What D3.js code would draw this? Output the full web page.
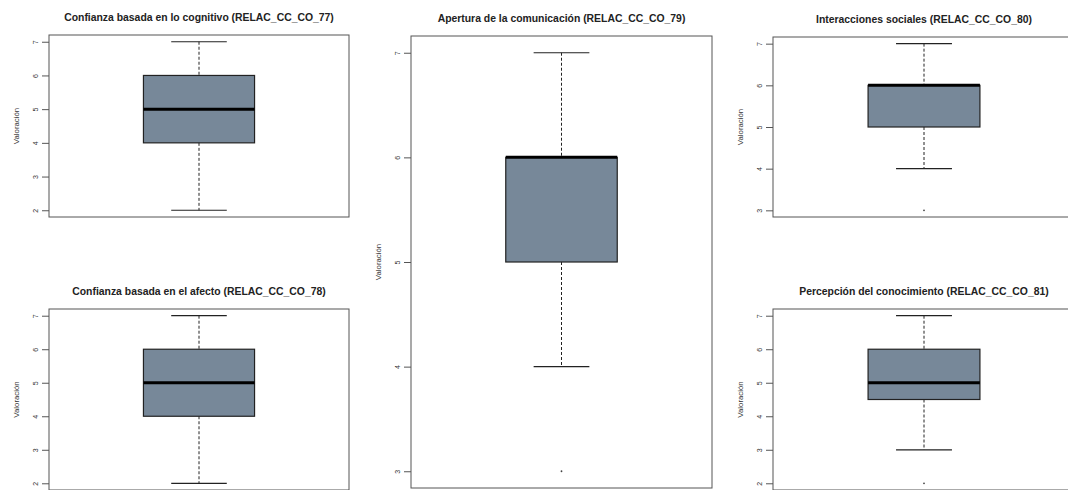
<!DOCTYPE html>
<html><head><meta charset="utf-8">
<script src="https://cdn.jsdelivr.net/npm/d3@7"></script>
<style>body{margin:0;background:#fff}svg{display:block}</style>
</head><body>
<svg id="c" width="1068" height="490"></svg>
<script>
// ---- data ----
const panelTitles = [
  "Confianza basada en lo cognitivo (RELAC_CC_CO_77)",
  "Confianza basada en el afecto (RELAC_CC_CO_78)",
  "Apertura de la comunicación (RELAC_CC_CO_79)",
  "Interacciones sociales (RELAC_CC_CO_80)",
  "Percepción del conocimiento (RELAC_CC_CO_81)"
];
const whiskerLow  = [2, 2, 4, 4, 3];
const q1Values    = [4, 4, 5, 5, 4.5];
const medians     = [5, 5, 6, 6, 5];
const q3Values    = [6, 6, 6, 6, 6];
const whiskerHigh = [7, 7, 7, 7, 7];
const outliers    = [[], [], [3], [3], [2]];
const yTickValues = [[2,3,4,5,6,7],[2,3,4,5,6,7],[3,4,5,6,7],[3,4,5,6,7],[2,3,4,5,6,7]];
const yLabel = "Valoración";

// ---- layout ----
const frames = [
  {x0:49,  x1:349,  y0:35,  y1:217},
  {x0:49,  x1:349,  y0:309, y1:490},
  {x0:411, x1:712,  y0:36,  y1:488},
  {x0:773, x1:1075, y0:37,  y1:217},
  {x0:773, x1:1075, y0:309, y1:490}
];

const svg = d3.select("#c");
const font = "'Liberation Sans', Arial, sans-serif";

panelTitles.forEach((title, i) => {
  const f = frames[i];
  const lo = Math.min(whiskerLow[i], ...outliers[i]);
  const hi = whiskerHigh[i];
  const pad = (hi - lo) * 0.04;
  const y = d3.scaleLinear().domain([lo - pad, hi + pad]).range([f.y1, f.y0]);
  const x = d3.scaleBand().domain([title]).range([f.x0, f.x1]).paddingInner(0).paddingOuter(0.85);
  const cx = x(title) + x.bandwidth() / 2;
  const bw = x.bandwidth();
  const g = svg.append("g");

  // title
  g.append("text").attr("x", (f.x0 + f.x1) / 2).attr("y", f.y0 - 14)
    .attr("text-anchor", "middle").attr("font-family", font).attr("font-weight", "bold")
    .attr("font-size", "10.4px").attr("fill", "#222").text(title);

  // y axis
  const ax = g.append("g").attr("transform", `translate(${f.x0},0)`)
    .call(d3.axisLeft(y).tickValues(yTickValues[i]).tickSize(7).tickPadding(0).tickFormat(d3.format("d")));
  ax.select(".domain").remove();
  ax.selectAll(".tick line").attr("stroke", "#555");
  ax.selectAll(".tick text")
    .attr("transform", "rotate(-90)")
    .attr("x", 0).attr("y", -11).attr("dy", 0)
    .attr("text-anchor", "middle")
    .attr("font-family", font).attr("font-size", "7px").attr("fill", "#333");

  // y label
  g.append("text")
    .attr("transform", `translate(${f.x0 - 30},${(f.y0 + Math.min(f.y1, 490)) / 2}) rotate(-90)`)
    .attr("text-anchor", "middle").attr("font-family", font).attr("font-size", "7.8px")
    .attr("fill", "#333").text(yLabel);

  // frame
  g.append("rect").attr("x", f.x0).attr("y", f.y0).attr("width", f.x1 - f.x0).attr("height", f.y1 - f.y0)
    .attr("fill", "none").attr("stroke", "#555").attr("stroke-width", 1);

  // whiskers
  g.append("line").attr("x1", cx).attr("x2", cx).attr("y1", y(whiskerHigh[i])).attr("y2", y(q3Values[i]))
    .attr("stroke", "#222").attr("stroke-dasharray", "3,2");
  g.append("line").attr("x1", cx).attr("x2", cx).attr("y1", y(q1Values[i])).attr("y2", y(whiskerLow[i]))
    .attr("stroke", "#222").attr("stroke-dasharray", "3,2");
  [whiskerHigh[i], whiskerLow[i]].forEach(v => {
    g.append("line").attr("x1", cx - bw / 4).attr("x2", cx + bw / 4).attr("y1", y(v)).attr("y2", y(v))
      .attr("stroke", "#222").attr("stroke-width", 1.2);
  });

  // box
  g.append("rect").attr("x", cx - bw / 2).attr("y", y(q3Values[i]))
    .attr("width", bw).attr("height", y(q1Values[i]) - y(q3Values[i]))
    .attr("fill", "#778899").attr("stroke", "#222").attr("stroke-width", 1.2);
  // median
  g.append("line").attr("x1", cx - bw / 2).attr("x2", cx + bw / 2)
    .attr("y1", y(medians[i])).attr("y2", y(medians[i]))
    .attr("stroke", "#000").attr("stroke-width", 3);

  // outliers
  g.selectAll("circle.o").data(outliers[i]).enter().append("circle")
    .attr("cx", cx).attr("cy", d => y(d)).attr("r", 0.9).attr("fill", "#444");
});
</script>
</body></html>
